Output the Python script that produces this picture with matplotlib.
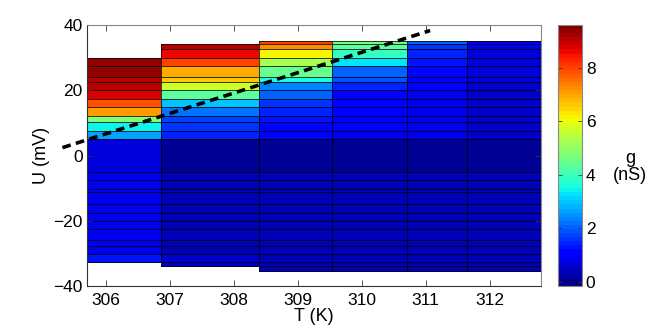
import numpy as np
import matplotlib
matplotlib.use("Agg")
import matplotlib.pyplot as plt

plt.rcParams['font.family'] = ['Liberation Sans', 'DejaVu Sans']

# Temperature edges of the columns (K)
T_edges = [305.2, 306.86, 308.40, 309.53, 310.71, 311.64, 312.9]
# Voltage edges (mV), top to bottom
U_edges = [35.2, 34.1, 32.5, 30.0, 27.4, 24.0, 22.6, 20.0, 17.4, 15.0, 12.0, 10.2,
           7.6, 5.0, -5.0, -7.5, -10.3, -11.3, -14.9, -17.5, -20.0, -22.5, -25.9,
           -27.6, -30.2, -32.6, -33.9, -35.4]
nan = np.nan
# Conductance g (nS) per column, cells from top to bottom
g_col1 = [nan, nan, nan, 9.3, 9.3, 9.1, 9.0, 8.8, 7.9, 7.1, 4.8, 3.4, 2.6, 0.7,
          0.85, 0.8, 0.85, 0.8, 0.85, 0.8, 0.85, 0.8, 0.85, 0.9, 1.3, nan, nan]
g_col2 = [nan, 9.1, 8.6, 8.0, 6.9, 6.7, 5.7, 4.4, 2.9, 2.2, 1.8, 1.6, 1.4, 0.1,
          0.45, 0.4, 0.45, 0.4, 0.45, 0.4, 0.45, 0.4, 0.45, 0.45, 0.5, 0.5, nan]
g_col3 = [8.0, 7.2, 6.2, 5.3, 4.5, 3.6, 2.3, 2.0, 1.6, 1.4, 1.3, 1.2, 1.1, 0.05,
          0.45, 0.4, 0.45, 0.4, 0.45, 0.4, 0.45, 0.4, 0.45, 0.45, 0.45, 0.45, 0.4]
g_col4 = [4.6, 4.3, 3.9, 3.3, 2.0, 1.9, 1.4, 1.2, 1.1, 1.0, 1.0, 0.95, 0.9, 0.05,
          0.45, 0.4, 0.45, 0.4, 0.45, 0.4, 0.45, 0.4, 0.45, 0.45, 0.45, 0.45, 0.4]
g_col5 = [2.0, 1.6, 1.5, 1.3, 1.1, 1.0, 0.95, 0.9, 0.9, 0.85, 0.85, 0.8, 0.8, 0.05,
          0.45, 0.4, 0.45, 0.4, 0.45, 0.4, 0.45, 0.4, 0.45, 0.45, 0.45, 0.45, 0.4]
g_col6 = [0.9, 0.8, 0.75, 0.7, 0.7, 0.65, 0.6, 0.6, 0.55, 0.55, 0.55, 0.5, 0.5, 0.05,
          0.4, 0.35, 0.4, 0.35, 0.4, 0.35, 0.4, 0.35, 0.4, 0.4, 0.4, 0.4, 0.35]

# Dashed line
line_T = [305.32, 311.07]
line_U = [2.4, 38.3]

x_ticks = [306, 307, 308, 309, 310, 311, 312]
y_ticks = [-40, -20, 0, 20, 40]
cb_ticks = [0, 2, 4, 6, 8]

W, H = 664, 332
fig = plt.figure(figsize=(W / 100, H / 100), dpi=100)
ax = fig.add_axes([86.7 / W, (H - 286) / H, 454 / W, 261 / H])

cmap = plt.get_cmap('jet', 64)
cols = [g_col1, g_col2, g_col3, g_col4, g_col5, g_col6]
U_arr = np.array(U_edges)
mesh = None
for i, g in enumerate(cols):
    g = np.array(g, dtype=float)
    idx = np.where(~np.isnan(g))[0]
    a, b = idx[0], idx[-1] + 1
    mesh = ax.pcolormesh([T_edges[i], T_edges[i + 1]], U_arr[a:b + 1],
                         g[a:b].reshape(-1, 1), cmap=cmap, vmin=-0.15, vmax=9.6,
                         edgecolors=(0, 0, 0, 0.75), linewidth=0.45)

ax.plot(line_T, line_U, color='k', lw=2.6, linestyle=(0, (2.4, 1.5)),
        dash_capstyle='butt', clip_on=False, zorder=5)

ax.set_xlim(305.7, 312.8)
ax.set_ylim(-40, 40)
ax.set_xticks(x_ticks)
ax.set_yticks(y_ticks)
ax.set_yticklabels(['\u221240', '\u221220', '0', '20', '40'])
ax.tick_params(direction='in', top=True, right=True, length=4, width=0.6,
               labelsize=12.5, color='#333333')
ax.tick_params(axis='x', pad=5)
ax.tick_params(axis='y', pad=3)
for s in ['left', 'bottom']:
    ax.spines[s].set_color('#333333')
for s in ['top', 'right']:
    ax.spines[s].set_color('#888888')
for s in ax.spines.values():
    s.set_linewidth(0.8)
    s.set_zorder(6)
ax.set_xlabel('T (K)', fontsize=13, labelpad=0)
ax.set_ylabel('U (mV)', fontsize=13, labelpad=2)

cax = fig.add_axes([558.3 / W, (H - 286) / H, 23.4 / W, 261 / H])
cb = fig.colorbar(mesh, cax=cax)
cb.set_ticks(cb_ticks)
cb.outline.set_edgecolor('#888888')
cb.outline.set_linewidth(0.8)
cax.tick_params(direction='in', left=True, right=True, length=3, width=0.6,
                labelsize=12.5, pad=3, color='#333333')
fig.text(630 / W, 1 - 167 / H, 'g\n(nS)', ha='center', va='center', fontsize=13,
         linespacing=1.0)

fig.savefig('out.png', dpi=100)
